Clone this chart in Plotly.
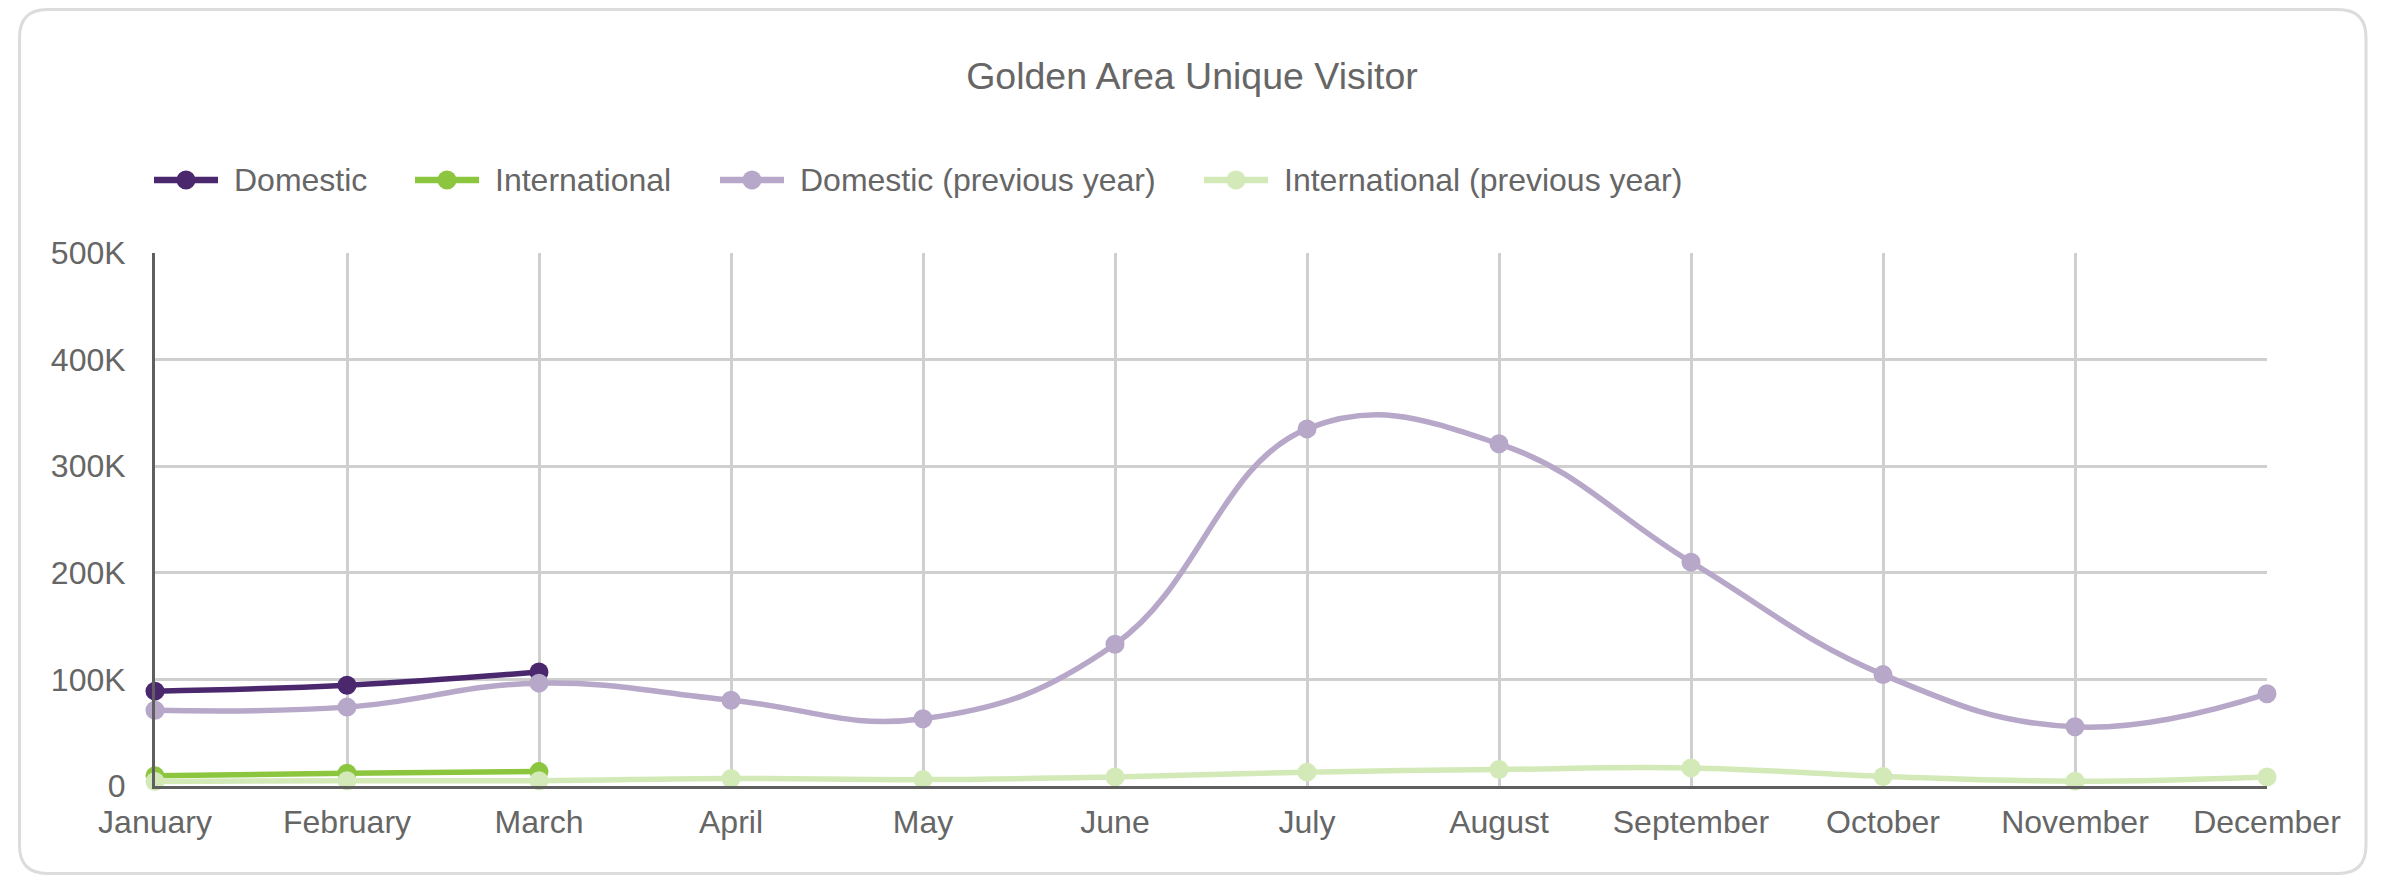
import plotly.graph_objects as go

# ---- data ----
months = ["January", "February", "March", "April", "May", "June", "July",
          "August", "September", "October", "November", "December"]
domestic = [89000, 94500, 107000]
international = [9500, 12000, 13500]
domestic_prev = [71000, 74000, 96500, 80500, 63000, 133000, 335000, 321000,
                 210000, 104500, 55500, 86500]
international_prev = [4300, 5000, 5000, 7000, 6000, 8500, 13000, 15500,
                      17000, 9000, 4500, 8500]
y_tickvals = [0, 100000, 200000, 300000, 400000, 500000]
y_ticktext = ["0", "100K", "200K", "300K", "400K", "500K"]

series_names = ["Domestic", "International", "Domestic (previous year)",
                "International (previous year)"]
series_colors = ["#4B286D", "#8CC63F", "#B7A7C8", "#D3EAB8"]

# ---- geometry (page has an 8px body margin; figure coords = page - 8) ----
OFF = 8
W, H = 2386 - OFF, 883 - 2 * OFF
L, R = 155 - OFF, 2386 - 2267 - 0
T = 253 - OFF
B = H - (786 - OFF)
PW, PH = W - L - R, H - T - B
FONT = "Liberation Sans, Arial, sans-serif"
TXT = "#666666"

fig = go.Figure()
for name, vals, col in zip(series_names,
                           [domestic, international, domestic_prev, international_prev],
                           series_colors):
    fig.add_trace(go.Scatter(
        x=months[:len(vals)], y=vals, name=name, mode="lines+markers",
        line=dict(color=col, width=5.5, shape="spline", smoothing=1.2),
        marker=dict(color=col, size=19),
        cliponaxis=False, showlegend=False,
    ))


def fx(x):  # page x -> paper
    return (x - OFF - L) / PW


def fy(y):  # page y -> paper
    return (H - B - (y - OFF)) / PH


def card_path(x0, y0, x1, y1, r):
    def p(x, y):
        return f"{fx(x):.6f},{fy(y):.6f}"
    return (f"M {p(x0 + r, y0)} L {p(x1 - r, y0)} Q {p(x1, y0)} {p(x1, y0 + r)} "
            f"L {p(x1, y1 - r)} Q {p(x1, y1)} {p(x1 - r, y1)} "
            f"L {p(x0 + r, y1)} Q {p(x0, y1)} {p(x0, y1 - r)} "
            f"L {p(x0, y0 + r)} Q {p(x0, y0)} {p(x0 + r, y0)} Z")


fig.add_shape(type="path", xref="paper", yref="paper",
              path=card_path(19.5, 9.5, 2366, 873.5, 28),
              line=dict(color="#DCDCDC", width=3), layer="below")

# ---- legend (drawn as line + dot + text, like the original) ----
legend_line_x = [154, 415, 720, 1204]
LEG_Y, LEG_LEN, LEG_GAP = 180, 64, 14
for name, col, x0 in zip(series_names, series_colors, legend_line_x):
    fig.add_shape(type="line", xref="paper", yref="paper",
                  x0=fx(x0), x1=fx(x0 + LEG_LEN), y0=fy(LEG_Y), y1=fy(LEG_Y),
                  line=dict(color=col, width=6.5))
    fig.add_shape(type="circle", xref="paper", yref="paper",
                  xsizemode="pixel", ysizemode="pixel",
                  xanchor=fx(x0 + LEG_LEN / 2), yanchor=fy(LEG_Y),
                  x0=-9.5, x1=9.5, y0=-9.5, y1=9.5,
                  fillcolor=col, line=dict(width=0))
    fig.add_annotation(xref="paper", yref="paper", x=fx(x0 + LEG_LEN + LEG_GAP),
                       y=fy(LEG_Y), xanchor="left", yanchor="middle",
                       text=name, showarrow=False,
                       font=dict(size=32, color=TXT, family=FONT))

fig.update_layout(
    width=W, height=H,
    margin=dict(l=L, r=R, t=T, b=B, autoexpand=False),
    paper_bgcolor="white", plot_bgcolor="white",
    font=dict(family=FONT, color=TXT, size=32),
    title=dict(text="Golden Area Unique Visitor", x=fx(1192), xanchor="center",
               xref="paper", yref="container", y=1 - (76 - OFF) / H,
               yanchor="middle", font=dict(size=37.5, color=TXT, family=FONT)),
    showlegend=False,
    xaxis=dict(range=[0, 11], type="category", showgrid=True,
               gridcolor="#CFCFCF", gridwidth=2.5, showline=True,
               linecolor="#5F5F5F", linewidth=3, ticks="",
               tickfont=dict(size=32, color=TXT, family=FONT),
               ticklabelstandoff=6, zeroline=False, fixedrange=True),
    yaxis=dict(range=[0, 500000], tickvals=y_tickvals, ticktext=y_ticktext,
               showgrid=True, gridcolor="#CFCFCF", gridwidth=2.5,
               showline=True, linecolor="#5F5F5F", linewidth=3, ticks="",
               tickfont=dict(size=32, color=TXT, family=FONT),
               ticklabelstandoff=20, zeroline=False, fixedrange=True),
)

fig.write_html("out.html")
